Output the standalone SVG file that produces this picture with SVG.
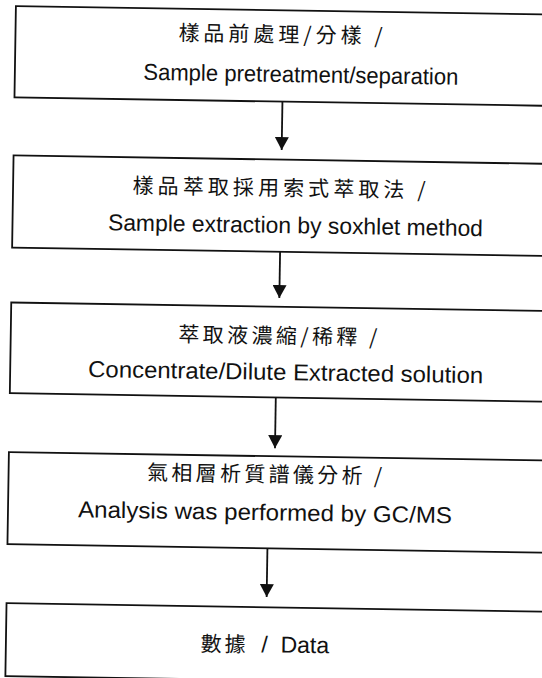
<svg xmlns="http://www.w3.org/2000/svg" width="542" height="678" viewBox="0 0 542 678">
<style>
.box{fill:#fff;stroke:#111;stroke-width:1.8}
.zh{font-family:"Noto Sans CJK TC","Noto Sans CJK SC",sans-serif;font-size:21px;fill:#111;text-anchor:middle}
.en{font-family:"Liberation Sans",Arial,sans-serif;font-size:23px;fill:#111;text-anchor:middle}
.conn{stroke:#111;stroke-width:1.8;fill:none;marker-end:url(#arr)}
</style>
<defs>
<marker id="arr" markerUnits="userSpaceOnUse" markerWidth="14" markerHeight="14" refX="13" refY="7" orient="auto">
<path d="M0,0 L13,7 L0,14 z" fill="#111"/>
</marker>
</defs>
<rect width="542" height="678" fill="#fff"/>
<g transform="rotate(0.9)">
<g id="connectors">
<line class="conn" x1="284" y1="97.2" x2="284" y2="145.6"/>
<line class="conn" x1="284" y1="247.3" x2="284" y2="293.6"/>
<line class="conn" x1="282" y1="393" x2="282" y2="443.8"/>
<line class="conn" x1="276" y1="544" x2="276" y2="592.8"/>
</g>
<g id="node1">
<rect class="box" x="16" y="5.8" width="570" height="91.4"/>
<text class="zh" x="281" y="37.5" textLength="204" lengthAdjust="spacing">樣品前處理/分樣  /</text>
<text class="en" x="302" y="77.5" textLength="315" lengthAdjust="spacingAndGlyphs">Sample pretreatment/separation</text>
</g>
<g id="node2">
<rect class="box" x="16" y="155.2" width="570" height="92.1"/>
<text class="zh" x="282" y="191" textLength="293" lengthAdjust="spacing">樣品萃取採用索式萃取法  /</text>
<text class="en" x="299" y="228.5" textLength="375" lengthAdjust="spacingAndGlyphs">Sample extraction by soxhlet method</text>
</g>
<g id="node3">
<rect class="box" x="16" y="302.3" width="570" height="90.7"/>
<text class="zh" x="283" y="339" textLength="199" lengthAdjust="spacing">萃取液濃縮/稀釋  /</text>
<text class="en" x="291.5" y="375.5" textLength="395" lengthAdjust="spacingAndGlyphs">Concentrate/Dilute Extracted solution</text>
</g>
<g id="node4">
<rect class="box" x="16" y="451.9" width="570" height="92.1"/>
<text class="zh" x="272" y="477.5" textLength="235" lengthAdjust="spacing">氣相層析質譜儀分析  /</text>
<text class="en" x="273" y="516" textLength="374" lengthAdjust="spacingAndGlyphs">Analysis was performed by GC/MS</text>
</g>
<g id="node5">
<rect class="box" x="16" y="603" width="570" height="73"/>
<text x="275" y="648" text-anchor="middle" fill="#111"><tspan style="font-family:'Noto Sans CJK TC',sans-serif;font-size:21px;letter-spacing:3px">數據</tspan><tspan style="font-family:'Liberation Sans',sans-serif;font-size:23px" xml:space="preserve">  /  Data</tspan></text>
</g>
</g>
</svg>
